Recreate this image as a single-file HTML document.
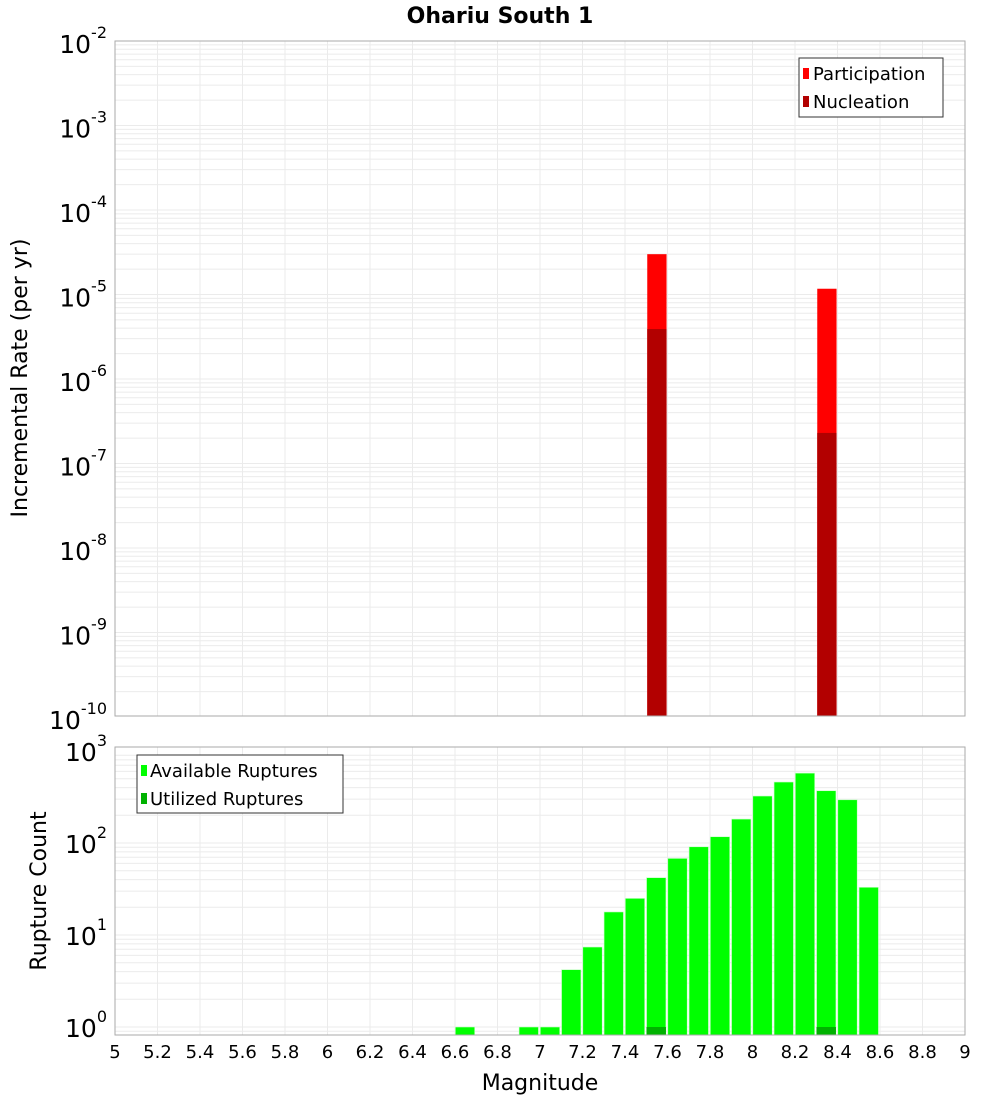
<!DOCTYPE html>
<html><head><meta charset="utf-8"><style>
body{margin:0;background:#fff;}
svg{display:block;font-family:"DejaVu Sans","Liberation Sans",sans-serif;}
</style></head><body>
<svg id="c" width="1000" height="1100" xmlns="http://www.w3.org/2000/svg">
<text x="500" y="23" text-anchor="middle" font-size="22" font-weight="bold">Ohariu South 1</text>
<g id="top"></g>
<g id="bot"></g>
<text transform="translate(27,378) rotate(-90)" text-anchor="middle" font-size="22">Incremental Rate (per yr)</text>
<text transform="translate(46,891) rotate(-90)" text-anchor="middle" font-size="22">Rupture Count</text>
<text x="540" y="1090" text-anchor="middle" font-size="22">Magnitude</text>
</svg>
<script>
const rateBins = [7.5, 8.3];
const participation = [3.0e-5, 1.17e-5];
const nucleation = [3.9e-6, 2.3e-7];
const countBins = [6.6, 6.9, 7.0, 7.1, 7.2, 7.3, 7.4, 7.5, 7.6, 7.7, 7.8, 7.9, 8.0, 8.1, 8.2, 8.3, 8.4, 8.5];
const available = [1, 1, 1, 4.2, 7.4, 17.8, 25, 42, 68, 91, 117, 182, 324, 460, 575, 370, 295, 33];
const utilizedBins = [7.5, 8.3];
const utilized = [1, 1];
const xTicks = [5,5.2,5.4,5.6,5.8,6,6.2,6.4,6.6,6.8,7,7.2,7.4,7.6,7.8,8,8.2,8.4,8.6,8.8,9];
const rateExps = [-2,-3,-4,-5,-6,-7,-8,-9,-10];
const countExps = [3,2,1,0];

const NS="http://www.w3.org/2000/svg";
const X0=115, X1=965;
const x = m => X0 + (m-5)/4*(X1-X0);
const yTop = v => 41 + (-2 - Math.log10(v))*84.5;
const yBot = v => 1027 - Math.log10(v)*92;
function mk(tag, attrs, parent){const e=document.createElementNS(NS,tag);for(const k in attrs)e.setAttribute(k,attrs[k]);parent.appendChild(e);return e;}

function grid(g, top, bottom, yf, eMin, eMax){
  mk('rect',{x:X0,y:top,width:X1-X0,height:bottom-top,fill:'#fff'},g);
  for(let e=eMin;e<=eMax;e++){for(let k=1;k<10;k++){const y=yf(k*Math.pow(10,e));if(y<top||y>bottom)continue;
    mk('line',{x1:X0,x2:X1,y1:y,y2:y,stroke:'#ebebeb','stroke-width':1},g);}}
  xTicks.forEach(t=>{mk('line',{x1:x(t),x2:x(t),y1:top,y2:bottom,stroke:'#ebebeb','stroke-width':1},g);});
}
// top
const gt=document.getElementById('top');
grid(gt,41,716,yTop,-10,-3);
rateBins.forEach((m,i)=>{
  const b=mk('rect',{x:x(m)+1,y:yTop(participation[i]),width:19.3,height:716-yTop(participation[i]),fill:'#ff0000'},gt);
  
  
  const n=mk('rect',{x:x(m)+1,y:yTop(nucleation[i]),width:19.3,height:716-yTop(nucleation[i]),fill:'#b20000'},gt);
  
  
});
mk('rect',{x:X0,y:41,width:X1-X0,height:675,fill:'none',stroke:'#aaa'},gt);
rateExps.forEach(e=>{const t=mk('text',{x:107,y:yTop(Math.pow(10,e))+12,'text-anchor':'end','font-size':25},gt);
  
  
  t.textContent='10';const s=mk('tspan',{dy:-15,'font-size':16},t);s.textContent=String(e);});
// legend top
const lt=mk('g',{},gt);


mk('rect',{x:799,y:58,width:144,height:59,fill:'#fff',stroke:'#333'},lt);
mk('rect',{x:803,y:68,width:6,height:11,fill:'#ff0000'},lt);
mk('text',{x:813,y:80,'font-size':18},lt).textContent='Participation';
mk('rect',{x:803,y:96,width:6,height:11,fill:'#b20000'},lt);
mk('text',{x:813,y:108,'font-size':18},lt).textContent='Nucleation';
// bottom
const gb=document.getElementById('bot');
grid(gb,747,1035,yBot,-1,2);
countBins.forEach((m,i)=>{
  const b=mk('rect',{x:x(m)+0.3,y:yBot(available[i]),width:19.4,height:1035-yBot(available[i]),fill:'#00ff00',stroke:'#c8ffc8','stroke-width':0.6},gb);
  
  
});
utilizedBins.forEach((m,i)=>{
  const b=mk('rect',{x:x(m)+0.3,y:yBot(utilized[i]),width:19.4,height:1035-yBot(utilized[i]),fill:'#00b200'},gb);
  
  
});
mk('rect',{x:X0,y:747,width:X1-X0,height:288,fill:'none',stroke:'#aaa'},gb);
countExps.forEach(e=>{const t=mk('text',{x:107,y:yBot(Math.pow(10,e))+10,'text-anchor':'end','font-size':25},gb);
  
  
  t.textContent='10';const s=mk('tspan',{dy:-15,'font-size':16},t);s.textContent=String(e);});
xTicks.forEach(v=>{const t=mk('text',{x:x(v),y:1058,'text-anchor':'middle','font-size':18},gb);
  
  
  t.textContent=String(v);});
const lb=mk('g',{},gb);


mk('rect',{x:137,y:755,width:206,height:58,fill:'#fff',stroke:'#333'},lb);
mk('rect',{x:141,y:765,width:6,height:11,fill:'#00ff00'},lb);
mk('text',{x:150,y:777,'font-size':18},lb).textContent='Available Ruptures';
mk('rect',{x:141,y:793,width:6,height:11,fill:'#00b200'},lb);
mk('text',{x:150,y:805,'font-size':18},lb).textContent='Utilized Ruptures';
</script>
</body></html>
